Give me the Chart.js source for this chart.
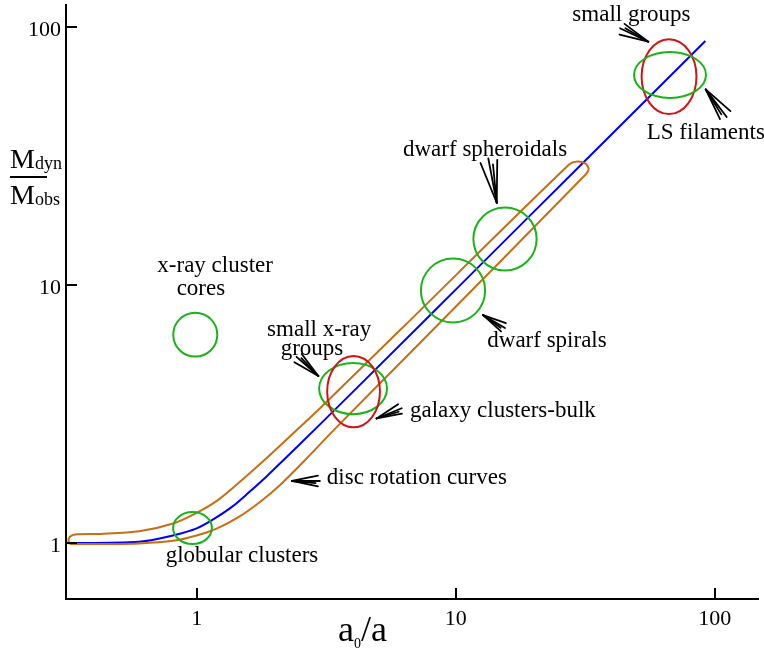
<!DOCTYPE html>
<html>
<head>
<meta charset="utf-8">
<script src="https://cdn.jsdelivr.net/npm/chart.js@4.4.1/dist/chart.umd.min.js"></script>
<style>
  html, body { margin: 0; padding: 0; background: #fff; }
  #wrap { width: 764px; height: 648px; position: relative; }
</style>
</head>
<body>
<div id="wrap"><canvas id="c"></canvas></div>
<script>
// ---- data ----
const xTickValues = [1, 10, 100];
const yTickValues = [1, 10, 100];

// MOND prediction curve (blue): [a0/a, Mdyn/Mobs]
const mondX = [0.32, 0.6, 0.81, 1.0, 1.15, 1.38, 1.6, 1.87, 2.15, 2.5, 3.0, 4.0, 10, 30, 92];
const mondY = [1.0, 1.012, 1.07, 1.14, 1.23, 1.39, 1.58, 1.82, 2.085, 2.415, 2.89, 3.845, 9.6, 28.8, 88.3];

// Disc rotation curve band (orange closed outline): lower edge left->right, cap, upper edge right->left
const bandX = [0.324, 0.45, 0.6, 0.81, 1.0, 1.2, 1.45, 1.75, 2.1, 2.6, 3.5, 6.84, 31.6,
               32.6, 31.6, 29.4, 27.4,
               6.1, 3.0, 2.3, 1.85, 1.5, 1.2, 1.0, 0.81, 0.6, 0.423, 0.339, 0.323, 0.32, 0.324];
const bandY = [0.991, 0.991, 0.996, 1.02, 1.07, 1.14, 1.26, 1.44, 1.68, 2.08, 2.84, 5.60, 26.7,
               28.2, 29.6, 30.1, 29.3,
               6.69, 3.34, 2.60, 2.12, 1.76, 1.46, 1.31, 1.19, 1.11, 1.085, 1.079, 1.055, 1.018, 0.991];

// Observed classes (ellipses): value ranges [xLow, xHigh, yLow, yHigh]
const classNames = ["x-ray cluster cores", "globular clusters", "small x-ray groups",
                    "galaxy clusters-bulk", "dwarf spirals", "dwarf spheroidals",
                    "small groups", "LS filaments"];
const classXLow  = [0.812, 0.811, 2.97, 3.19, 7.34, 11.70, 52.2, 48.8];
const classXHigh = [1.201, 1.145, 5.43, 5.10, 12.99, 20.53, 85.0, 92.5];
const classYLow  = [5.28, 0.991, 3.16, 2.81, 7.16, 11.38, 46.0, 53.1];
const classYHigh = [7.81, 1.318, 4.99, 5.31, 12.67, 19.97, 89.7, 80.0];
const classColor = ["green", "green", "green", "red", "green", "green", "red", "green"];

// Text labels (left edge / baseline, in data units)
const labelText = ["small groups", "LS filaments", "dwarf spheroidals", "dwarf spirals",
                   "small x-ray", "groups", "galaxy clusters-bulk", "disc rotation curves",
                   "globular clusters", "x-ray cluster", "cores"];
const labelX = [28.2, 54.6, 6.26, 13.24, 1.87, 2.11, 6.66, 3.18, 0.759, 0.705, 0.837];
const labelY = [105.5, 36.8, 31.6, 5.77, 6.34, 5.36, 3.09, 1.69, 0.846, 11.23, 9.15];

// Arrows: tail -> tip (data units)
const arrowTailX = [43.1, 111.2, 13.36, 15.5, 2.43, 6.19, 2.99];
const arrowTailY = [98.9, 44.8, 30.98, 6.81, 5.27, 3.33, 1.74];
const arrowTipX  = [55.4, 92.3, 14.40, 12.75, 2.95, 4.95, 2.33];
const arrowTipY  = [87.7, 57.3, 20.84, 7.65, 4.44, 3.04, 1.74];

// ---- styles ----
const COLORS = { blue: '#0000ff', orange: '#c86e14', green: '#18b418', red: '#d41414' };
const SERIF = "'Liberation Serif', 'Times New Roman', serif";

const mondData = mondX.map((x, i) => ({ x, y: mondY[i] }));
const bandData = bandX.map((x, i) => ({ x, y: bandY[i] }));

const overlayPlugin = {
  id: 'overlay',
  afterDatasetsDraw(chart) {
    const { ctx, scales: { x, y } } = chart;
    ctx.save();
    ctx.lineWidth = 2;
    for (let i = 0; i < classNames.length; i++) {
      const x1 = x.getPixelForValue(classXLow[i]), x2 = x.getPixelForValue(classXHigh[i]);
      const y1 = y.getPixelForValue(classYLow[i]), y2 = y.getPixelForValue(classYHigh[i]);
      ctx.strokeStyle = COLORS[classColor[i]];
      ctx.beginPath();
      ctx.ellipse((x1 + x2) / 2, (y1 + y2) / 2, Math.abs(x2 - x1) / 2, Math.abs(y2 - y1) / 2, 0, 0, Math.PI * 2);
      ctx.stroke();
    }
    ctx.strokeStyle = '#000';
    ctx.lineWidth = 1.8;
    ctx.lineCap = 'round';
    for (let i = 0; i < arrowTipX.length; i++) {
      const tx = x.getPixelForValue(arrowTipX[i]), ty = y.getPixelForValue(arrowTipY[i]);
      const bx = x.getPixelForValue(arrowTailX[i]), by = y.getPixelForValue(arrowTailY[i]);
      const ang = Math.atan2(by - ty, bx - tx);
      const len = Math.hypot(bx - tx, by - ty);
      const barbs = [[0, 1], [0.2, 0.95], [-0.2, 0.95], [0.09, 0.85]];
      for (const [da, f] of barbs) {
        ctx.beginPath();
        ctx.moveTo(tx, ty);
        ctx.lineTo(tx + Math.cos(ang + da) * len * f, ty + Math.sin(ang + da) * len * f);
        ctx.stroke();
      }
    }
    ctx.fillStyle = '#000';
    ctx.font = '23px ' + SERIF;
    ctx.textAlign = 'left';
    ctx.textBaseline = 'alphabetic';
    for (let i = 0; i < labelText.length; i++) {
      ctx.fillText(labelText[i], x.getPixelForValue(labelX[i]), y.getPixelForValue(labelY[i]));
    }
    ctx.restore();
  },
  afterDraw(chart) {
    const { ctx, scales: { x, y }, chartArea } = chart;
    ctx.save();
    ctx.strokeStyle = '#000';
    ctx.lineWidth = 2;
    for (const v of xTickValues) {
      const px = Math.round(x.getPixelForValue(v));
      ctx.beginPath(); ctx.moveTo(px, chartArea.bottom); ctx.lineTo(px, chartArea.bottom - 11); ctx.stroke();
    }
    for (const v of yTickValues) {
      const py = Math.round(y.getPixelForValue(v));
      ctx.beginPath(); ctx.moveTo(chartArea.left, py); ctx.lineTo(chartArea.left + 11, py); ctx.stroke();
    }
    ctx.fillStyle = '#000';
    ctx.textAlign = 'left';
    ctx.textBaseline = 'alphabetic';
    ctx.font = '28px ' + SERIF;
    ctx.fillText('M', 10, 168);
    ctx.fillText('M', 10, 204);
    ctx.font = '18px ' + SERIF;
    ctx.fillText('dyn', 35, 169);
    ctx.fillText('obs', 35, 205);
    ctx.fillRect(10, 176, 37, 2);
    ctx.font = '36px ' + SERIF;
    ctx.fillText('a', 338, 641);
    const wa = ctx.measureText('a').width;
    ctx.font = '14px ' + SERIF;
    ctx.fillText('0', 338 + wa, 648);
    const w0 = ctx.measureText('0').width;
    ctx.font = '36px ' + SERIF;
    ctx.fillText('/a', 338 + wa + w0, 641);
    ctx.restore();
  }
};

new Chart(document.getElementById('c'), {
  type: 'scatter',
  data: {
    datasets: [
      { data: bandData, showLine: true, borderColor: COLORS.orange, borderWidth: 2,
        pointRadius: 0, tension: 0.3, fill: false },
      { data: mondData, showLine: true, borderColor: COLORS.blue, borderWidth: 2,
        pointRadius: 0, cubicInterpolationMode: 'monotone', fill: false }
    ]
  },
  options: {
    responsive: true,
    maintainAspectRatio: false,
    animation: false,
    layout: { padding: { top: 5, right: 6, left: 0, bottom: 0 } },
    plugins: { legend: { display: false }, tooltip: { enabled: false } },
    scales: {
      x: {
        type: 'logarithmic', min: 0.313, max: 146.9, bounds: 'data',
        grid: { display: false, drawTicks: false },
        border: { display: true, color: '#000', width: 2 },
        afterBuildTicks: s => { s.ticks = xTickValues.map(v => ({ value: v })); },
        afterFit: s => { s.height = 49; s.paddingLeft = 0; s.paddingRight = 0; },
        ticks: { color: '#000', padding: 7, maxRotation: 0, autoSkip: false,
                 font: { family: SERIF, size: 22 }, callback: v => String(v) }
      },
      y: {
        type: 'logarithmic', min: 0.607, max: 121.7, bounds: 'data',
        grid: { display: false, drawTicks: false },
        border: { display: true, color: '#000', width: 2 },
        afterBuildTicks: s => { s.ticks = yTickValues.map(v => ({ value: v })); },
        afterFit: s => { s.width = 66; s.paddingTop = 0; s.paddingBottom = 0; },
        ticks: { color: '#000', padding: 5, labelOffset: 3, autoSkip: false,
                 font: { family: SERIF, size: 22 }, callback: v => String(v) }
      }
    }
  },
  plugins: [overlayPlugin]
});
</script>
</body>
</html>
